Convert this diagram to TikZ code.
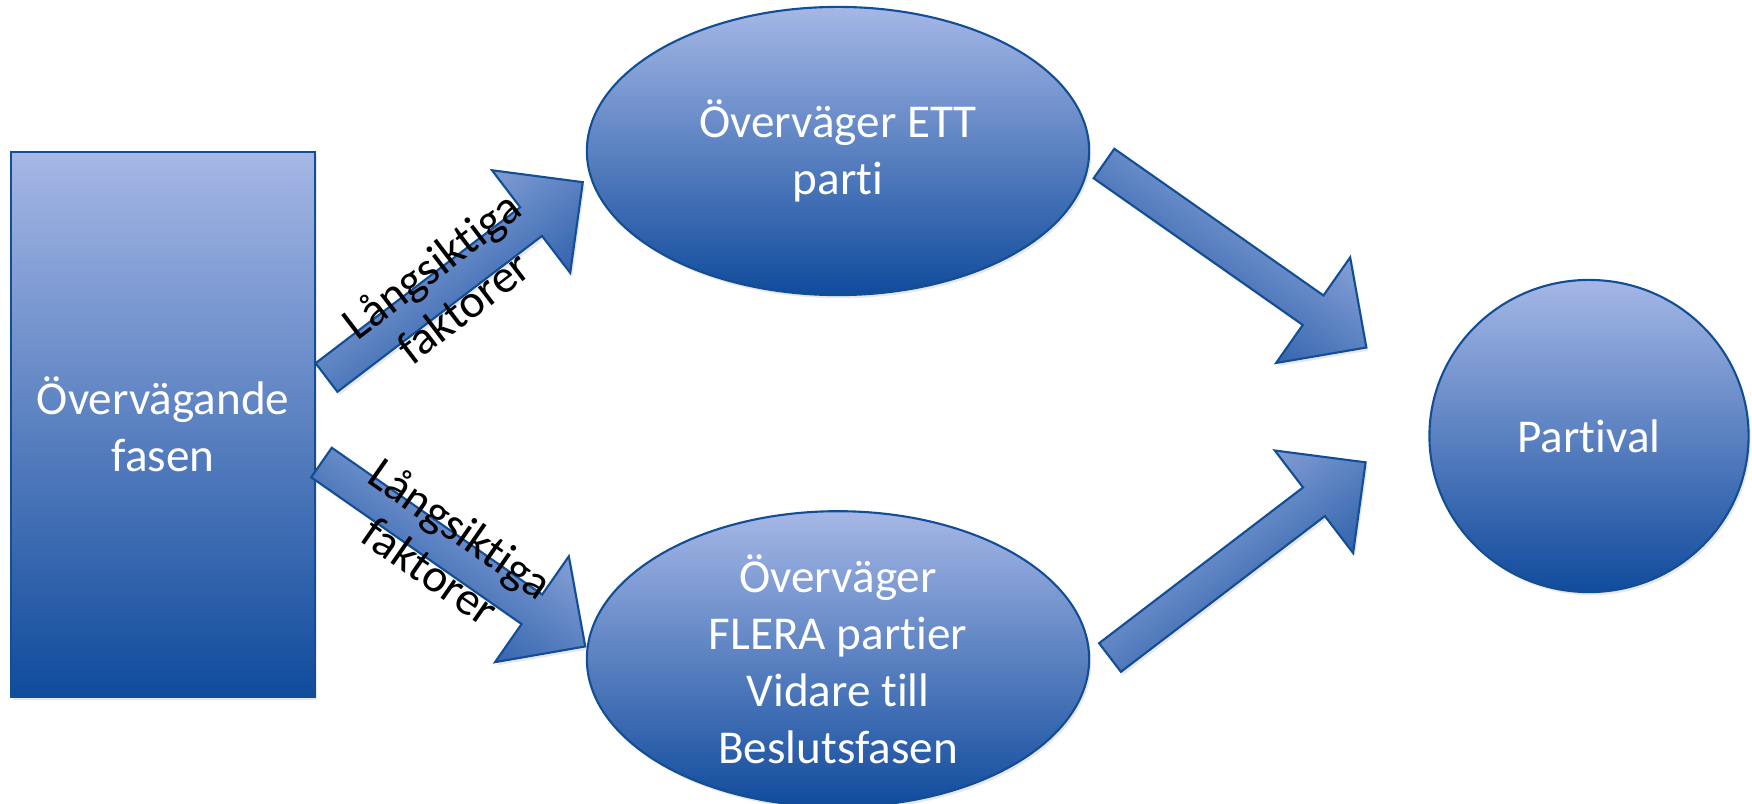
\documentclass[tikz,border=0pt]{standalone}
\usepackage{fontspec}
\setmainfont{Carlito}[RawFeature=-liga, RawFeature=-clig, RawFeature=-calt, RawFeature=-dlig]
\usetikzlibrary{shapes.geometric,calc,shadows}
\definecolor{boxtop}{RGB}{165,183,230}
\definecolor{boxmid}{RGB}{134,155,213}
\definecolor{boxbot}{RGB}{16,75,156}
\definecolor{boxline}{RGB}{18,78,150}

\begin{document}
\begin{tikzpicture}[x=0.01cm, y=-0.01cm,
    blueshade/.style={top color=boxtop, middle color=boxmid, bottom color=boxbot,
        draw=boxline, line width=0.6pt,
        drop shadow={shadow xshift=0.6pt, shadow yshift=-0.9pt, opacity=0.18}},
    shapetext/.style={text=white, align=center, inner sep=0pt,
        font=\fontsize{13.4}{16.2}\selectfont},
    bigarrow/.style={blueshade, line join=miter},
    lbl/.style={text=black, align=center, inner sep=0pt,
        font=\fontsize{13.4}{15}\selectfont}]
    \useasboundingbox (0,0) rectangle (1752,803);

    % Phases
    \node[blueshade, rectangle, minimum width=3.04cm, minimum height=5.45cm, shapetext]
        (fase) at (163,424.5) {Övervägande\\fasen};
    \node[blueshade, ellipse, minimum width=5.02cm, minimum height=2.88cm, shapetext]
        (ett) at (838,151) {Överväger ETT\\parti};
    \node[blueshade, ellipse, minimum width=5.02cm, minimum height=2.88cm, shapetext]
        (flera) at (838,659) {Överväger\\FLERA partier\\Vidare till\\Beslutsfasen};
    \node[blueshade, ellipse, minimum width=3.19cm, minimum height=3.12cm, shapetext]
        (val) at (1589,436) {Partival};

    % Block arrows (tail -> tip)
    \coordinate (a-tail) at (326.5,377.5); \coordinate (a-tip) at (583,182);
    \coordinate (b-tail) at (321.5,462.5); \coordinate (b-tip) at (586,647);
    \coordinate (c-tail) at (1104,163.5); \coordinate (c-tip) at (1367,348);
    \coordinate (d-tail) at (1110,657.5); \coordinate (d-tip) at (1366,462);

    \foreach \nm in {a,b,c,d} {
        \path let \p1=($(\nm-tip)-(\nm-tail)$) in
            \pgfextra{\pgfmathsetmacro\arrang{atan2(\y1,\x1)}%
                \pgfmathsetmacro\arrlen{veclen(\x1,\y1)/0.284528}%
                \global\let\arrang\arrang \global\let\arrlen\arrlen};
        \begin{scope}[shift={(\nm-tail)}, rotate=\arrang]
            \shade[bigarrow, shading angle=\arrang]
                (0,-18) -- (\arrlen-65,-18) -- (\arrlen-65,-64.5) -- (\arrlen,0)
                -- (\arrlen-65,64.5) -- (\arrlen-65,18) -- (0,18) -- cycle;
        \end{scope}
    }

    % Labels on the left arrows
    \path (a-tail) -- (a-tip) node[lbl, pos=0.47, sloped] (lab-a) {Långsiktiga\\faktorer};
    \path (b-tail) -- (b-tip) node[lbl, pos=0.47, sloped] (lab-b) {Långsiktiga\\faktorer};
\end{tikzpicture}
\end{document}
